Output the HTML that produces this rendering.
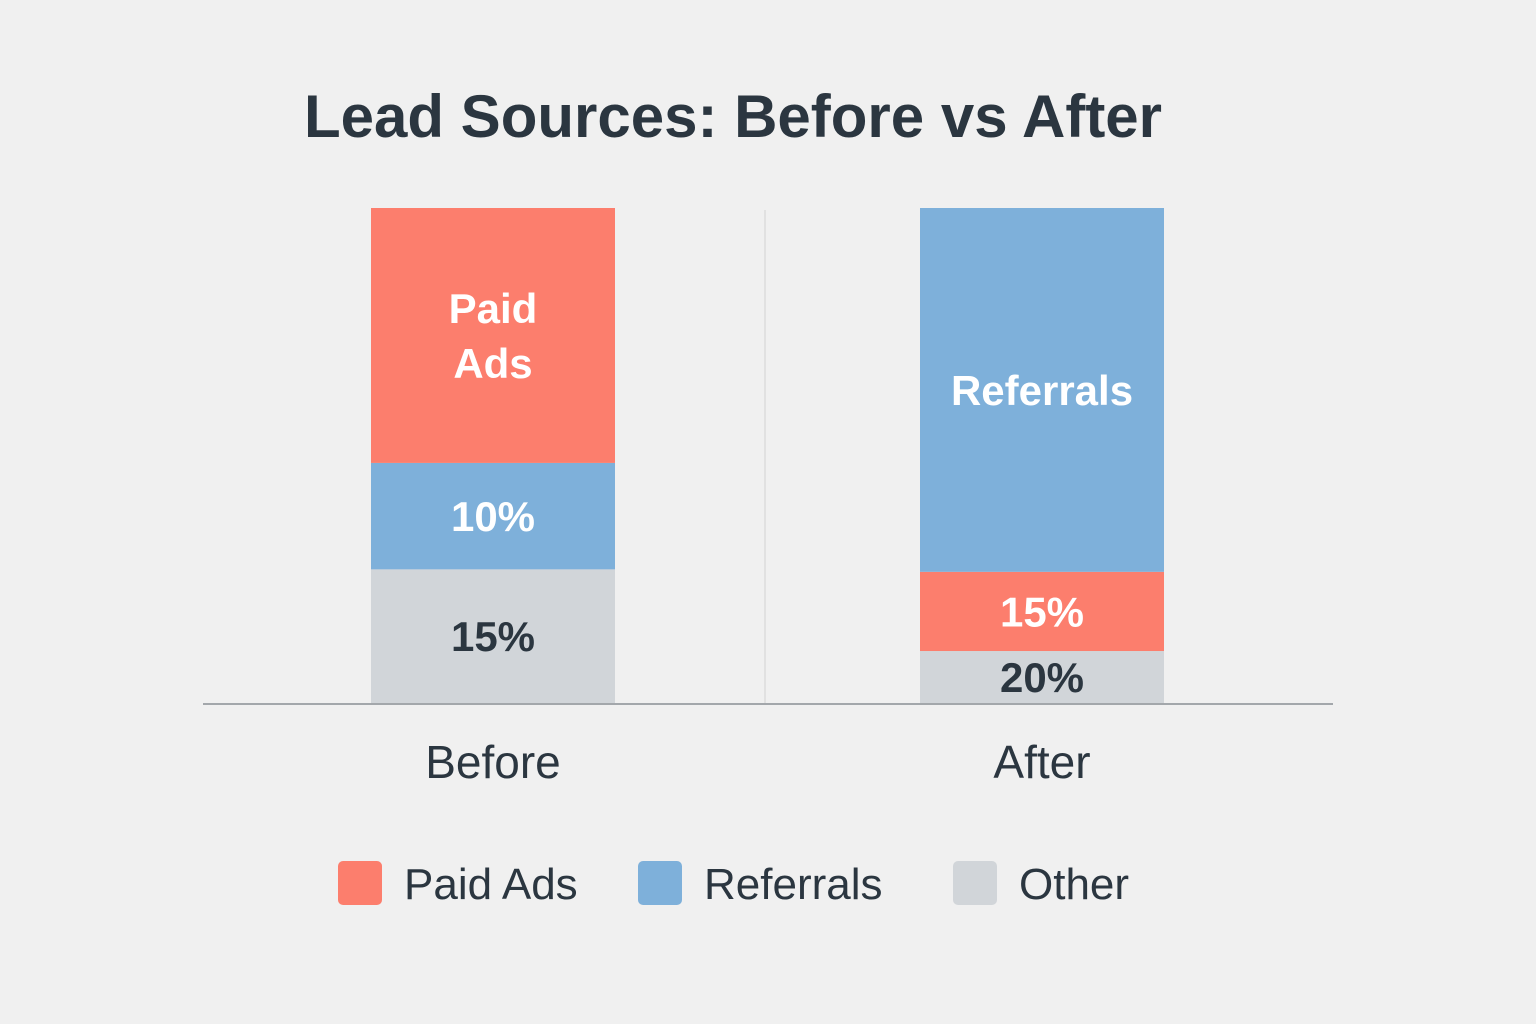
<!DOCTYPE html>
<html><head><meta charset="utf-8">
<style>
html,body{margin:0;padding:0;background:#f0f0f0;}
svg{display:block;font-family:"Liberation Sans","DejaVu Sans",sans-serif;}
</style></head>
<body>
<svg id="chart" width="1536" height="1024" viewBox="0 0 1536 1024">
<rect x="0" y="0" width="1536" height="1024" fill="#f0f0f0"/>
<text x="733" y="137" text-anchor="middle" font-size="60" font-weight="bold" fill="#2b3640">Lead Sources: Before vs After</text>
<line x1="765" y1="210" x2="765" y2="703" stroke="#dcdcdc" stroke-width="1.5"/>
<g id="bars"></g>
<line x1="203" y1="704" x2="1333" y2="704" stroke="#a3a7ab" stroke-width="2"/>
<g id="legend"></g>
</svg>
<script>
const categories = ["Before", "After"];
const seriesNames = ["Paid Ads", "Referrals", "Other"];
// stack order from bottom up for each category
const beforeOrder = ["Other", "Referrals", "Paid Ads"];
const afterOrder = ["Other", "Paid Ads", "Referrals"];
const beforeValues = [27, 21.5, 51.5];
const afterValues = [10.5, 16, 73.5];
const beforeLabels = ["15%", "10%", "Paid\nAds"];
const afterLabels = ["20%", "15%", "Referrals"];

const colors = {"Paid Ads":"#fc7e6d","Referrals":"#7eb0da","Other":"#d1d5d9"};
const textColors = {"Paid Ads":"#ffffff","Referrals":"#ffffff","Other":"#2b3640"};
const NS = "http://www.w3.org/2000/svg";
const baseY = 703, plotH = 495;
const yScale = v => v / 100 * plotH;
const xCenter = i => [493, 1042][i];
const barW = 244;

const barsG = document.getElementById('bars');
const orders = [beforeOrder, afterOrder];
const values = [beforeValues, afterValues];
const labels = [beforeLabels, afterLabels];

categories.forEach((cat, ci) => {
  let y = baseY;
  values[ci].forEach((v, si) => {
    const h = yScale(v);
    const name = orders[ci][si];
    const r = document.createElementNS(NS, 'rect');
    
    
    r.setAttribute('x', xCenter(ci) - barW / 2);
    r.setAttribute('y', y - h);
    r.setAttribute('width', barW);
    r.setAttribute('height', h);
    r.setAttribute('fill', colors[name]);
    barsG.appendChild(r);
    const lines = labels[ci][si].split('\n');
    const cy = y - h / 2;
    lines.forEach((ln, li) => {
      const t = document.createElementNS(NS, 'text');
      
      
      t.setAttribute('x', xCenter(ci));
      t.setAttribute('y', cy + 15 + (li - (lines.length - 1) / 2) * 55);
      t.setAttribute('text-anchor', 'middle');
      t.setAttribute('font-size', '42');
      t.setAttribute('font-weight', 'bold');
      t.setAttribute('fill', textColors[name]);
      t.textContent = ln;
      barsG.appendChild(t);
    });
    y -= h;
  });
  const ct = document.createElementNS(NS, 'text');
  
  
  ct.setAttribute('x', xCenter(ci));
  ct.setAttribute('y', 778);
  ct.setAttribute('text-anchor', 'middle');
  ct.setAttribute('font-size', '46');
  ct.setAttribute('fill', '#2b3640');
  ct.textContent = cat;
  barsG.appendChild(ct);
});

const legendG = document.getElementById('legend');
const legendX = [338, 638, 953];
seriesNames.forEach((s, i) => {
  const g = document.createElementNS(NS, 'g');
  
  
  const r = document.createElementNS(NS, 'rect');
  
  
  r.setAttribute('x', legendX[i]); r.setAttribute('y', 861);
  r.setAttribute('width', 44); r.setAttribute('height', 44);
  r.setAttribute('rx', 5); r.setAttribute('fill', colors[s]);
  g.appendChild(r);
  const t = document.createElementNS(NS, 'text');
  
  
  t.setAttribute('x', legendX[i] + 66); t.setAttribute('y', 899);
  t.setAttribute('font-size', '44'); t.setAttribute('fill', '#2b3640');
  t.textContent = s;
  g.appendChild(t);
  legendG.appendChild(g);
});
</script>
</body></html>
